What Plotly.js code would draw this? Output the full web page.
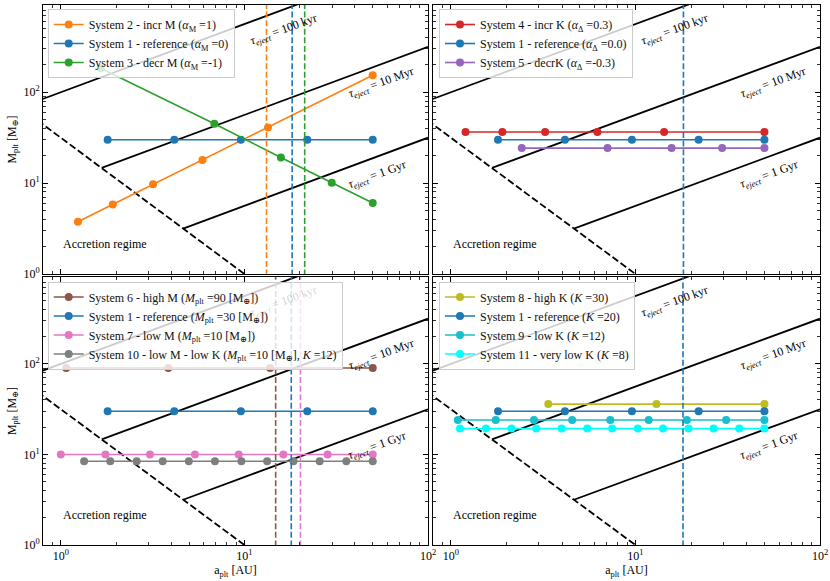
<!DOCTYPE html>
<html><head><meta charset="utf-8">
<script src="https://cdn.plot.ly/plotly-3.0.1.min.js"></script>
<style>html,body{margin:0;padding:0;background:#fff}#chart{width:830px;height:581px}</style>
</head><body><div id="chart"></div>
<script>
// ---- data ----
var sys2_a = [1.24, 1.92, 3.18, 5.91, 13.45, 50];
var sys2_m = [3.76, 5.83, 9.7, 18.0, 41.0, 154];
var sys1_a = [1.80, 4.15, 9.57, 22.0, 50];
var sys1_m = [30, 30, 30, 30, 30];
var sys3_a = [1.65, 6.86, 15.8, 29.9, 50];
var sys3_m = [184, 45, 19.1, 10.1, 6.03];
var sys4_a = [1.20, 1.90, 3.24, 6.22, 14.3, 50];
var sys4_m = [36.5, 36.5, 36.5, 36.5, 36.5, 36.5];
var sys5_a = [2.42, 7.06, 15.7, 29.5, 50];
var sys5_m = [24.3, 24.3, 24.3, 24.3, 24.3];
var sys6_a = [1.07, 3.85, 13.8, 50];
var sys6_m = [90, 90, 90, 90];
var sys7_a = [1.0, 1.75, 3.06, 5.38, 9.31, 16.3, 28.4, 50];
var sys7_m = [10, 10, 10, 10, 10, 10, 10, 10];
var sys10_a = [1.34, 1.86, 2.59, 3.59, 4.98, 6.91, 9.63, 13.3, 18.5, 25.7, 35.9, 50];
var sys10_m = [8.4, 8.4, 8.4, 8.4, 8.4, 8.4, 8.4, 8.4, 8.4, 8.4, 8.4, 8.4];
var sys8_a = [3.37, 13.0, 50];
var sys8_m = [36, 36, 36];
var sys9_a = [1.09, 1.75, 2.82, 4.54, 7.30, 11.8, 19.0, 31.0, 50];
var sys9_m = [24, 24, 24, 24, 24, 24, 24, 24, 24];
var sys11_a = [1.12, 1.55, 2.13, 2.90, 3.98, 5.48, 7.48, 10.3, 14.1, 19.4, 26.5, 36.5, 50];
var sys11_m = [19.3, 19.3, 19.3, 19.3, 19.3, 19.3, 19.3, 19.3, 19.3, 19.3, 19.3, 19.3, 19.3];

// ejection-time lines and accretion boundary (end points)
var tau100kyr_a = [0.6, 100];   var tau100kyr_m = [68.2, 3162];
var tau10Myr_a  = [1.67, 100];  var tau10Myr_m  = [14.7, 316];
var tau1Gyr_a   = [4.64, 100];  var tau1Gyr_m   = [3.16, 31.6];
var accr_a = [0.5, 10];         var accr_m = [89.4, 1.0];
var tauLabels = ["100 kyr", "10 Myr", "1 Gyr"];
var tauLabel_a = [16.4, 55.8, 53];
var tauLabel_m = [479, 127, 12.3];
var accrLabel = "Accretion regime";
var accrLabel_a = 1.0, accrLabel_m = 2.15;

// vertical ejection radii per panel
var vTL_a = [13.2, 18.2, 21.3]; var vTL_c = ['#ff7f0e', '#1f77b4', '#2ca02c'];
var vTR_a = [18.2];             var vTR_c = ['#1f77b4'];
var vBL_a = [14.8, 18.0, 20.2]; var vBL_c = ['#8c564b', '#1f77b4', '#e377c2'];
var vBR_a = [18.1];             var vBR_c = ['#1f77b4'];

var majorTicks = [1, 10, 100];
var xTickText = ['10<sup>0</sup>', '10<sup>1</sup>', '10<sup>2</sup>'];
var yTicks = [1, 10, 100];
var yTickText = ['10<sup>0</sup>', '10<sup>1</sup>', '10<sup>2</sup>'];

// ---- build ----
var SERIF = '"Liberation Serif", "DejaVu Serif", serif';
var traces = [];
var panels = [
  {x: 'x',  y: 'y',  leg: 'legend',  v: vTL_a, vc: vTL_c},
  {x: 'x2', y: 'y2', leg: 'legend2', v: vTR_a, vc: vTR_c},
  {x: 'x3', y: 'y3', leg: 'legend3', v: vBL_a, vc: vBL_c},
  {x: 'x4', y: 'y4', leg: 'legend4', v: vBR_a, vc: vBR_c}
];
panels.forEach(function (p) {
  [[tau100kyr_a, tau100kyr_m], [tau10Myr_a, tau10Myr_m], [tau1Gyr_a, tau1Gyr_m]].forEach(function (l) {
    traces.push({x: l[0], y: l[1], xaxis: p.x, yaxis: p.y, mode: 'lines', showlegend: false,
      line: {color: 'black', width: 1.8}, hoverinfo: 'skip'});
  });
  traces.push({x: accr_a, y: accr_m, xaxis: p.x, yaxis: p.y, mode: 'lines', showlegend: false,
    line: {color: 'black', width: 1.8, dash: '7px,3px'}, hoverinfo: 'skip'});
});

function series(p, a, m, name, color) {
  traces.push({x: a, y: m, xaxis: panels[p].x, yaxis: panels[p].y, legend: panels[p].leg,
    mode: 'lines+markers', name: name, line: {color: color, width: 1.6},
    marker: {color: color, size: 8}});
}
series(0, sys2_a, sys2_m, 'System 2 - incr M (<i>α</i><sub>M</sub> =1)', '#ff7f0e');
series(0, sys1_a, sys1_m, 'System 1 - reference (<i>α</i><sub>M</sub> =0)', '#1f77b4');
series(0, sys3_a, sys3_m, 'System 3 - decr M (<i>α</i><sub>M</sub> =-1)', '#2ca02c');
series(1, sys4_a, sys4_m, 'System 4 - incr K (<i>α</i><sub>Δ</sub> =0.3)', '#d62728');
series(1, sys1_a, sys1_m, 'System 1 - reference (<i>α</i><sub>Δ</sub> =0.0)', '#1f77b4');
series(1, sys5_a, sys5_m, 'System 5 - decrK (<i>α</i><sub>Δ</sub> =-0.3)', '#9467bd');
series(2, sys6_a, sys6_m, 'System 6 - high M (<i>M</i><sub>plt</sub> =90 [M<sub>⊕</sub>])', '#8c564b');
series(2, sys1_a, sys1_m, 'System 1 - reference (<i>M</i><sub>plt</sub> =30 [M<sub>⊕</sub>])', '#1f77b4');
series(2, sys7_a, sys7_m, 'System 7 - low M (<i>M</i><sub>plt</sub> =10 [M<sub>⊕</sub>])', '#e377c2');
series(2, sys10_a, sys10_m, 'System 10 - low M - low K (<i>M</i><sub>plt</sub> =10 [M<sub>⊕</sub>], <i>K</i> =12)', '#7f7f7f');
series(3, sys8_a, sys8_m, 'System 8 - high K (<i>K</i> =30)', '#bcbd22');
series(3, sys1_a, sys1_m, 'System 1 - reference (<i>K</i> =20)', '#1f77b4');
series(3, sys9_a, sys9_m, 'System 9 - low K (<i>K</i> =12)', '#17becf');
series(3, sys11_a, sys11_m, 'System 11 - very low K (<i>K</i> =8)', '#00ffff');

panels.forEach(function (p) {
  p.v.forEach(function (a, i) {
    traces.push({x: [a, a], y: [0.5, 5000], xaxis: p.x, yaxis: p.y, mode: 'lines', showlegend: false,
      line: {color: p.vc[i], width: 1.6, dash: '6px,2.6px'}, hoverinfo: 'skip'});
  });
});

var minorVals = [];
[0.1, 1, 10, 100].forEach(function (d) { for (var k = 2; k <= 9; k++) minorVals.push(k * d); });

var xDomL = [43 / 830, 428 / 830], xDomR = [433 / 830, 820 / 830];
var yDomT = [1 - 274 / 581, 1 - 5 / 581], yDomB = [1 - 545 / 581, 1 - 277 / 581];

function xax(dom, anchor, labels) {
  return {domain: dom, anchor: anchor, type: 'log', range: [Math.log10(0.8), 2], showline: true,
    linecolor: 'black', linewidth: 1, mirror: 'allticks', ticks: 'inside', ticklen: 5, tickwidth: 1,
    tickcolor: 'black', tickmode: 'array', tickvals: majorTicks, ticktext: xTickText,
    showticklabels: labels, showgrid: false, zeroline: false,
    tickfont: {family: SERIF, size: 12, color: 'black'},
    minor: {ticks: 'inside', ticklen: 3, tickwidth: 0.8, tickcolor: 'black', tickmode: 'array', tickvals: minorVals, showgrid: false},
    title: labels ? {text: 'a<sub>plt</sub> [AU]', font: {family: SERIF, size: 12, color: 'black'}, standoff: 0} : {text: ''}};
}
function yax(dom, anchor, labels) {
  return {domain: dom, anchor: anchor, type: 'log', range: [0, 2.96], showline: true,
    linecolor: 'black', linewidth: 1, mirror: 'allticks', ticks: 'inside', ticklen: 5, tickwidth: 1,
    tickcolor: 'black', tickmode: 'array', tickvals: yTicks, ticktext: yTickText,
    showticklabels: labels, showgrid: false, zeroline: false,
    tickfont: {family: SERIF, size: 12, color: 'black'},
    minor: {ticks: 'inside', ticklen: 3, tickwidth: 0.8, tickcolor: 'black', tickmode: 'array', tickvals: minorVals, showgrid: false},
    title: labels ? {text: 'M<sub>plt</sub> [M<sub>⊕</sub>]', font: {family: SERIF, size: 12, color: 'black'}, standoff: 4} : {text: ''}};
}

function legend(x, y) {
  return {x: x / 830, y: 1 - y / 581, xanchor: 'left', yanchor: 'top', bgcolor: 'rgba(255,255,255,0.8)',
    bordercolor: '#cccccc', borderwidth: 1, font: {family: SERIF, size: 12, color: '#111'},
    itemwidth: 30, tracegroupgap: 0};
}

var annotations = [];
panels.forEach(function (p, pi) {
  tauLabels.forEach(function (t, i) {
    // label under the bottom-left legend appears faded in the reference
    var faded = (pi === 2 && i === 0);
    annotations.push({x: Math.log10(tauLabel_a[i]), y: Math.log10(tauLabel_m[i]), xref: p.x, yref: p.y,
      text: '<i>τ</i><sub><i>eject</i></sub> = ' + t, showarrow: false, textangle: -20,
      font: {family: SERIF, size: 12, color: faded ? 'rgba(0,0,0,0.2)' : 'black'}, xanchor: 'center', yanchor: 'middle'});
  });
  annotations.push({x: Math.log10(accrLabel_a), y: Math.log10(accrLabel_m), xref: p.x, yref: p.y,
    text: accrLabel, showarrow: false, xanchor: 'left', yanchor: 'middle',
    font: {family: SERIF, size: 12, color: 'black'}});
});

var layout = {
  width: 830, height: 581, margin: {l: 0, r: 0, t: 0, b: 0}, paper_bgcolor: 'white', plot_bgcolor: 'white',
  font: {family: SERIF, color: 'black'},
  xaxis: xax(xDomL, 'y', false), yaxis: yax(yDomT, 'x', true),
  xaxis2: xax(xDomR, 'y2', false), yaxis2: yax(yDomT, 'x2', false),
  xaxis3: xax(xDomL, 'y3', true), yaxis3: yax(yDomB, 'x3', true),
  xaxis4: xax(xDomR, 'y4', true), yaxis4: yax(yDomB, 'x4', false),
  legend: legend(47.7, 9), legend2: legend(439, 9), legend3: legend(47.7, 281.5), legend4: legend(439, 281.5),
  annotations: annotations,
  showlegend: true
};
Plotly.newPlot('chart', traces, layout, {staticPlot: true});
</script></body></html>
